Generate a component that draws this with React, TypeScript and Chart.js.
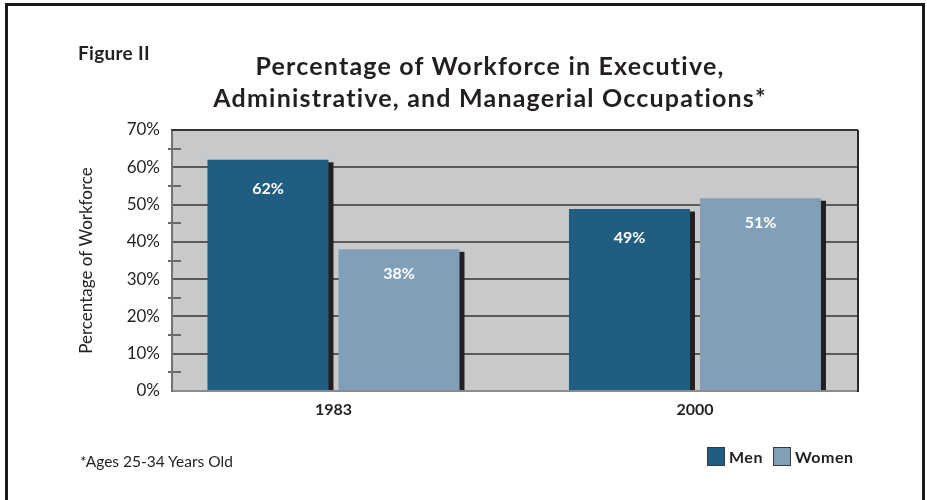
import React, { useEffect, useRef } from "react";
import { Chart, registerables } from "chart.js";

Chart.register(...registerables);

// ---- data ----
const categories = ["1983", "2000"];
const menValues = [62, 48.8];
const womenValues = [38, 51.7];
const menLabels = ["62%", "49%"];
const womenLabels = ["38%", "51%"];
const yTicks = [0, 10, 20, 30, 40, 50, 60, 70];
const yMinorTicks = [5, 15, 25, 35, 45, 55, 65];
const seriesNames = ["Men", "Women"];

// ---- style ----
const MEN = "#1f5e80";
const WOMEN = "#80a0ba";
const INK = "#231f20";
const PLOT_BG = "#c8c9cb";
const FONT = "Lato, 'DejaVu Sans', sans-serif";

const decorPlugin = {
  id: "decor",
  beforeDraw(chart: any) {
    const { ctx, chartArea: a } = chart;
    ctx.save();
    ctx.fillStyle = PLOT_BG;
    ctx.fillRect(a.left, a.top, a.right - a.left, a.bottom - a.top);
    ctx.restore();
  },
  beforeDatasetsDraw(chart: any) {
    const ctx = chart.ctx;
    ctx.save();
    ctx.fillStyle = "#231f20";
    chart.data.datasets.forEach((_: any, di: number) => {
      const meta = chart.getDatasetMeta(di);
      meta.data.forEach((el: any) => {
        const { x, y, base, width } = el.getProps(["x", "y", "base", "width"], true);
        ctx.fillRect(x - width / 2 + 5, y + 2.5, width, base - y - 2.5);
      });
    });
    ctx.restore();
  },
  afterDatasetsDraw(chart: any) {
    const { ctx, chartArea: a } = chart;
    const yScale = chart.scales.y;
    ctx.save();
    // value labels
    const labelSets = [menLabels, womenLabels];
    ctx.fillStyle = "#ffffff";
    ctx.font = `bold 16px ${FONT}`;
    ctx.textAlign = "center";
    ctx.textBaseline = "middle";
    chart.data.datasets.forEach((_: any, di: number) => {
      const meta = chart.getDatasetMeta(di);
      const off = di === 0 ? 29 : 25;
      meta.data.forEach((el: any, j: number) => {
        const { x, y } = el.getProps(["x", "y"], true);
        ctx.fillText(labelSets[di][j], x, y + off);
      });
    });
    // minor ticks
    ctx.strokeStyle = "#6a6a6a";
    ctx.lineWidth = 2;
    yMinorTicks.forEach((v) => {
      const py = Math.round(yScale.getPixelForValue(v));
      ctx.beginPath();
      ctx.moveTo(a.left - 4, py);
      ctx.lineTo(a.left + 9, py);
      ctx.stroke();
    });
    // frame of plot
    ctx.strokeStyle = "#8a8a8a";
    ctx.lineWidth = 2;
    ctx.beginPath();
    ctx.moveTo(a.left, a.bottom);
    ctx.lineTo(a.right, a.bottom);
    ctx.stroke();
    ctx.strokeStyle = "#737373";
    ctx.beginPath();
    ctx.moveTo(a.left, a.top);
    ctx.lineTo(a.left, a.bottom + 1);
    ctx.stroke();
    ctx.strokeStyle = "#2a2a2a";
    ctx.lineWidth = 1.5;
    ctx.beginPath();
    ctx.moveTo(a.left - 1, a.top);
    ctx.lineTo(a.right, a.top);
    ctx.stroke();
    ctx.lineWidth = 2;
    ctx.beginPath();
    ctx.moveTo(a.right, a.top);
    ctx.lineTo(a.right, a.bottom + 1);
    ctx.stroke();
    ctx.restore();
  },
};

export default function App() {
  const ref = useRef<HTMLCanvasElement | null>(null);

  useEffect(() => {
    if (!ref.current) return;
    const chart = new Chart(ref.current, {
      type: "bar",
      data: {
        datasets: [
          {
            label: seriesNames[0],
            data: menValues.map((v, i) => ({ x: i, y: v })),
            backgroundColor: MEN,
            borderWidth: 0,
            categoryPercentage: 0.7248,
            barPercentage: 0.9237,
          },
          {
            label: seriesNames[1],
            data: womenValues.map((v, i) => ({ x: i, y: v })),
            backgroundColor: WOMEN,
            borderWidth: 0,
            categoryPercentage: 0.7248,
            barPercentage: 0.9237,
          },
        ],
      },
      options: {
        responsive: false,
        animation: false,
        devicePixelRatio: 1,
        layout: { padding: { left: 0, right: 69, top: 130, bottom: 0 } },
        plugins: {
          legend: { display: false },
          title: { display: false },
          tooltip: { enabled: false },
        },
        scales: {
          x: {
            type: "linear",
            min: -0.4467,
            max: 1.451,
            bounds: "data",
            offset: false,
            grace: 0,
            grid: { display: false, offset: false },
            border: { display: false },
            afterBuildTicks: (s: any) => {
              s.ticks = categories.map((_, i) => ({ value: i }));
            },
            ticks: {
              callback: (v: any) => categories[v] ?? "",
              font: { family: FONT, size: 16, weight: "bold" },
              color: INK,
              padding: 1,
              maxRotation: 0,
              autoSkip: false,
              includeBounds: false,
            },
            afterFit: (s: any) => {
              s.height = 109;
            },
          },
          y: {
            min: 0,
            max: 70,
            afterBuildTicks: (s: any) => {
              s.ticks = yTicks.map((v) => ({ value: v }));
            },
            ticks: {
              callback: (v: any) => v + "%",
              font: { family: FONT, size: 17 },
              color: INK,
              padding: 12,
            },
            grid: { color: "#5a5a5a", lineWidth: 2, drawTicks: false },
            border: { display: false },
            title: {
              display: true,
              text: "Percentage of Workforce",
              font: { family: FONT, size: 17 },
              color: INK,
              padding: { top: 76, bottom: 0 },
            },
            afterFit: (s: any) => {
              s.width = 172;
            },
          },
        },
      } as any,
      plugins: [decorPlugin],
    });
    return () => chart.destroy();
  }, []);

  const box = (color: string, left: number) => (
    <div
      style={{
        position: "absolute",
        left,
        top: 447,
        width: 18,
        height: 19,
        background: color,
        border: "1px solid #3a3a3a",
        boxSizing: "border-box",
      }}
    />
  );
  const legendText = (text: string, left: number) => (
    <div
      style={{
        position: "absolute",
        left,
        top: 449,
        fontSize: 16,
        lineHeight: "16px",
        fontWeight: "bold",
        letterSpacing: "0.5px",
        whiteSpace: "nowrap",
      }}
    >
      {text}
    </div>
  );

  return (
    <div
      style={{
        position: "absolute",
        left: 0,
        top: 0,
        width: 927,
        height: 500,
        overflow: "hidden",
        background: "#ffffff",
        fontFamily: FONT,
        color: INK,
      }}
    >
      <div
        style={{
          position: "absolute",
          left: 5,
          top: 3,
          width: 920,
          height: 560,
          border: "3px solid #1a1a1a",
          boxSizing: "border-box",
        }}
      />
      <canvas
        ref={ref}
        width={927}
        height={500}
        style={{ position: "absolute", left: 0, top: 0, width: 927, height: 500 }}
      />
      <div
        style={{
          position: "absolute",
          left: 78,
          top: 43,
          fontSize: 19,
          lineHeight: "19px",
          fontWeight: "bold",
          letterSpacing: "0.3px",
          whiteSpace: "nowrap",
        }}
      >
        Figure II
      </div>
      <div
        style={{
          position: "absolute",
          left: 490,
          top: 49,
          transform: "translateX(-50%)",
          fontSize: 25,
          lineHeight: "32px",
          fontWeight: "bold",
          letterSpacing: "1.2px",
          textAlign: "center",
          whiteSpace: "nowrap",
        }}
      >
        Percentage of Workforce in Executive,
        <br />
        Administrative, and Managerial Occupations*
      </div>
      <div
        style={{
          position: "absolute",
          left: 80,
          top: 454,
          fontSize: 15.5,
          lineHeight: "15px",
          whiteSpace: "nowrap",
        }}
      >
        *Ages 25-34 Years Old
      </div>
      {box(MEN, 707)}
      {legendText(seriesNames[0], 729)}
      {box(WOMEN, 773)}
      {legendText(seriesNames[1], 795)}
    </div>
  );
}
